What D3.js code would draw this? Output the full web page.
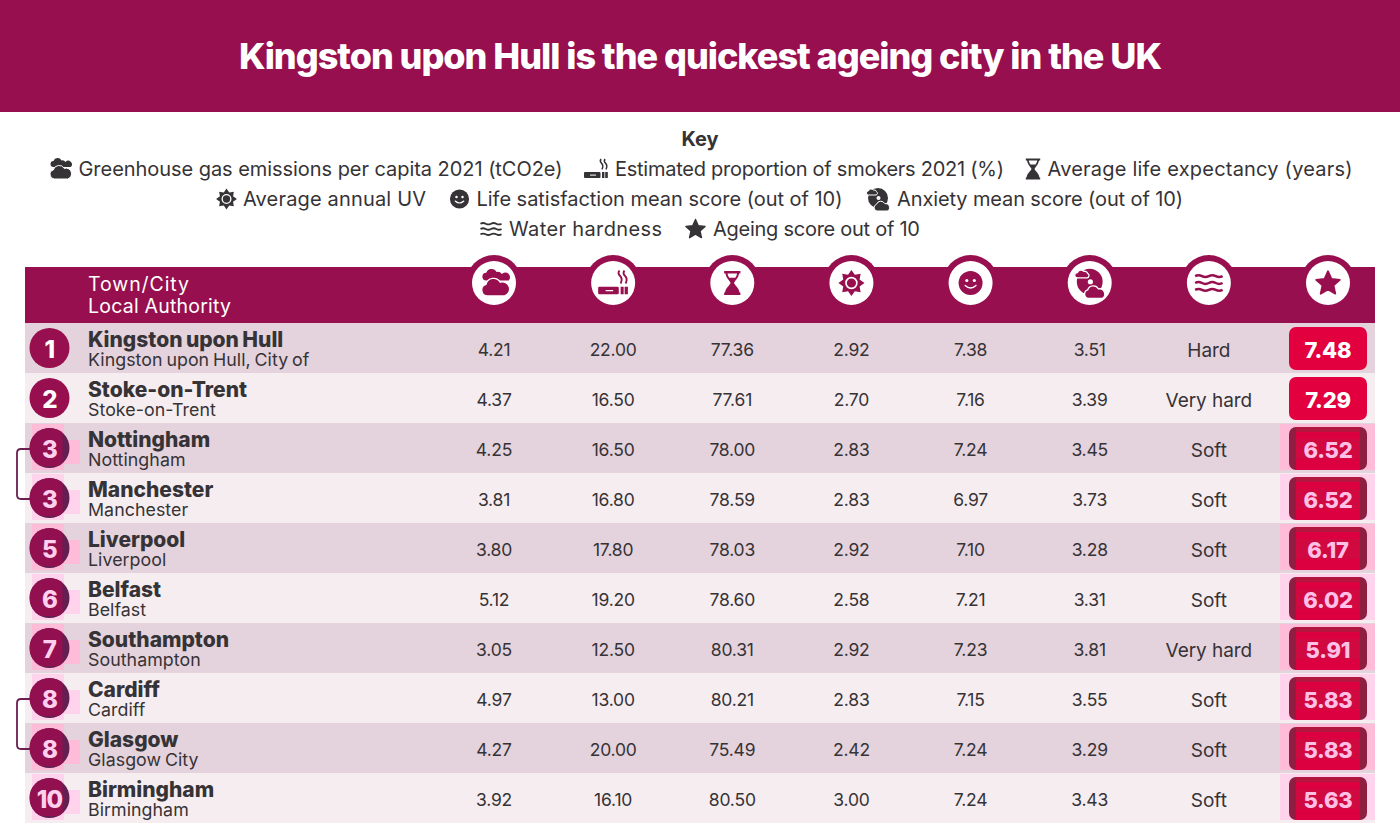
<!DOCTYPE html>
<html>
<head>
<meta charset="utf-8">
<script src="https://cdn.jsdelivr.net/npm/d3@7"></script>
<style>
  html, body { margin: 0; padding: 0; background: #fff; }
  svg { display: block; }
  text { font-family: Inter, "Noto Sans", sans-serif; }
</style>
</head>
<body>
<script>
// data
var title = "Kingston upon Hull is the quickest ageing city in the UK";
var keyHeading = "Key";
var keyLabels = [
  "Greenhouse gas emissions per capita 2021 (tCO2e)",
  "Estimated proportion of smokers 2021 (%)",
  "Average life expectancy (years)",
  "Average annual UV",
  "Life satisfaction mean score (out of 10)",
  "Anxiety mean score (out of 10)",
  "Water hardness",
  "Ageing score out of 10"
];
var keyRows = [[0, 1, 2], [3, 4, 5], [6, 7]];
var headerLabels = ["Town/City", "Local Authority"];

var ranks = [1, 2, 3, 3, 5, 6, 7, 8, 8, 10];
var towns = ["Kingston upon Hull", "Stoke-on-Trent", "Nottingham", "Manchester", "Liverpool", "Belfast", "Southampton", "Cardiff", "Glasgow", "Birmingham"];
var authorities = ["Kingston upon Hull, City of", "Stoke-on-Trent", "Nottingham", "Manchester", "Liverpool", "Belfast", "Southampton", "Cardiff", "Glasgow City", "Birmingham"];
var emissions = [4.21, 4.37, 4.25, 3.81, 3.80, 5.12, 3.05, 4.97, 4.27, 3.92];
var smokers = [22.00, 16.50, 16.50, 16.80, 17.80, 19.20, 12.50, 13.00, 20.00, 16.10];
var lifeExpectancy = [77.36, 77.61, 78.00, 78.59, 78.03, 78.60, 80.31, 80.21, 75.49, 80.50];
var uvIndex = [2.92, 2.70, 2.83, 2.83, 2.92, 2.58, 2.92, 2.83, 2.42, 3.00];
var satisfaction = [7.38, 7.16, 7.24, 6.97, 7.10, 7.21, 7.23, 7.15, 7.24, 7.24];
var anxiety = [3.51, 3.39, 3.45, 3.73, 3.28, 3.31, 3.81, 3.55, 3.29, 3.43];
var hardness = ["Hard", "Very hard", "Soft", "Soft", "Soft", "Soft", "Very hard", "Soft", "Soft", "Soft"];
var scores = [7.48, 7.29, 6.52, 6.52, 6.17, 6.02, 5.91, 5.83, 5.83, 5.63];

var w = 1400, h = 840;
var maroon = "#970f4e", ink = "#363336";
var fmt = d3.format(".2f");

var svg = d3.select("body").append("svg").attr("width", w).attr("height", h);

// scales
var colNames = ["emissions", "smokers", "life", "uv", "satisfaction", "anxiety", "hardness", "score"];
var xCol = d3.scalePoint().domain(colNames).range([494, 1328]);
var yRow = d3.scaleBand().domain(d3.range(towns.length)).range([323, 823]);

// squeeze or stretch a text to a measured width, the font here differs from the original
function fitWidth(sel, target) {
  var n = sel.text().length - 1;
  var now = sel.node().getComputedTextLength();
  sel.attr("letter-spacing", (target - now) / n);
  return sel;
}

// icons, all drawn in a 24x24 box
function radial(n, r1, r2) {
  var pts = d3.range(n * 2).map(function (i) {
    return [(i * Math.PI) / n, i % 2 ? r2 : r1];
  });
  return d3.lineRadial().curve(d3.curveLinearClosed)(pts);
}
var cloudBig = "M6 22 a4.6 4.6 0 0 1 -1.2 -9 a6 6 0 0 1 11 -1.6 a5.4 5.4 0 0 1 3.4 10.6 z";
var cloudSmall = "M5 9 a3 3 0 0 1 0 -6 a4.4 4.4 0 0 1 8 -.6 a3.6 3.6 0 0 1 4 1.6 a3.6 3.6 0 0 1 5.4 5 z";
var waveLine = "M1 0 q2.75 -1.5 5.5 0 t5.5 0 t5.5 0 t5.5 0";

var icons = {
  emissions: function (g, c) {
    g.append("path").attr("d", cloudSmall).attr("fill", c).attr("transform", "translate(1,1)");
    g.append("path").attr("d", cloudBig).attr("fill", c).attr("stroke", "#fff").attr("stroke-width", 1).attr("transform", "translate(1,0)");
  },
  smokers: function (g, c) {
    g.append("rect").attr("x", 0).attr("y", 15).attr("width", 16.5).attr("height", 6).attr("rx", 1).attr("fill", c);
    g.append("rect").attr("x", 6).attr("y", 17.6).attr("width", 6).attr("height", 1).attr("fill", "#fff");
    g.append("rect").attr("x", 18).attr("y", 15).attr("width", 2.4).attr("height", 6).attr("fill", c);
    g.append("rect").attr("x", 21.2).attr("y", 15).attr("width", 2.6).attr("height", 6).attr("fill", c);
    ["M17 2 q-1.6 2.4 .6 4.4 t.4 6", "M21 2 q-1.6 2.4 .6 4.4 t.4 6"].forEach(function (d) {
      g.append("path").attr("d", d).attr("fill", "none").attr("stroke", c).attr("stroke-width", 1.5);
    });
  },
  life: function (g, c) {
    g.append("path").attr("fill", c)
      .attr("d", "M4.5 1 h15 v2.2 h-1.2 c-.6 4 -3.2 6 -4.8 8.8 c1.6 2.8 4.6 4.6 5.2 8.8 h.8 v2.2 h-15 v-2.2 h.8 c.6 -4.2 3.6 -6 5.2 -8.8 c-1.6 -2.8 -4.2 -4.8 -4.8 -8.8 h-1.2 z");
    g.append("path").attr("fill", "#fff").attr("d", "M7.6 3.2 h8.8 c-.3 2 -1 3 -1.6 4 h-5.6 c-.6 -1 -1.3 -2 -1.6 -4 z");
  },
  uv: function (g, c) {
    g.append("path").attr("d", radial(8, 12.5, 8.5)).attr("fill", c).attr("transform", "translate(12,12)");
    g.append("circle").attr("cx", 12).attr("cy", 12).attr("r", 5.2).attr("fill", "none").attr("stroke", "#fff").attr("stroke-width", 1.6);
  },
  satisfaction: function (g, c) {
    g.append("circle").attr("cx", 12).attr("cy", 12).attr("r", 11.5).attr("fill", c);
    g.append("circle").attr("cx", 8.4).attr("cy", 9.6).attr("r", 1.5).attr("fill", "#fff");
    g.append("circle").attr("cx", 15.6).attr("cy", 9.6).attr("r", 1.5).attr("fill", "#fff");
    g.append("path").attr("d", "M6.8 14.4 q5.2 4.8 10.4 0").attr("fill", "none").attr("stroke", "#fff").attr("stroke-width", 1.3).attr("stroke-linecap", "round");
  },
  anxiety: function (g, c) {
    g.append("circle").attr("cx", 12).attr("cy", 11).attr("r", 10).attr("fill", c);
    g.append("circle").attr("cx", 12.5).attr("cy", 11).attr("r", 2).attr("fill", "#fff");
    g.append("path").attr("d", "M2.4 8 a2 2 0 0 1 0 -4 a3 3 0 0 1 5 -1 a2.4 2.4 0 0 1 3 1.6 a1.8 1.8 0 0 1 -.4 3.4 z")
      .attr("fill", c).attr("stroke", "#fff").attr("stroke-width", 1);
    g.append("path").attr("d", "M11 24 a3.4 3.4 0 0 1 -.6 -6.6 a4.6 4.6 0 0 1 8.4 -.8 a4 4 0 0 1 2.8 7.4 z")
      .attr("fill", c).attr("stroke", "#fff").attr("stroke-width", 1);
  },
  hardness: function (g, c) {
    [6.5, 12, 17.5].forEach(function (y) {
      g.append("path").attr("d", waveLine).attr("transform", "translate(0," + y + ")")
        .attr("fill", "none").attr("stroke", c).attr("stroke-width", 1.9);
    });
  },
  score: function (g, c) {
    g.append("path").attr("d", radial(5, 11.5, 5.4)).attr("fill", c).attr("stroke", c)
      .attr("stroke-width", 1.6).attr("stroke-linejoin", "round").attr("transform", "translate(12,12.6)");
  }
};
function drawIcon(parent, name, cx, cy, size, color) {
  var s = size / 24;
  var g = parent.append("g").attr("transform", "translate(" + cx + "," + cy + ") scale(" + s + ") translate(-12,-12)");
  icons[name](g, color);
}

// title band
svg.append("rect").attr("width", w).attr("height", 112).attr("fill", maroon);
svg.append("text").attr("x", w / 2).attr("y", 56).attr("dy", ".36em")
  .attr("text-anchor", "middle").attr("fill", "#fff")
  .attr("font-size", 36).attr("font-weight", 800).text(title)
  .call(fitWidth, 923);

// key
svg.append("text").attr("x", w / 2).attr("y", 139).attr("dy", ".36em").attr("text-anchor", "middle")
  .attr("fill", ink).attr("font-size", 20).attr("font-weight", 700).text(keyHeading);

// layout of the key, one entry per label
var keyBox = [24, 24, 15, 19, 20, 24, 22, 21];
var keyIcon = [24, 24, 23, 20, 20, 24, 23, 21];
var keyWidths = [484, 389, 305, 183, 366, 286, 153, 207];
var keyGaps = [21.5, 23.5, 23];
var yKey = d3.scalePoint().domain(d3.range(keyRows.length)).range([169, 229]);
keyRows.forEach(function (row, r) {
  var g = svg.append("g");
  var total = d3.sum(row, function (k) { return keyBox[k] + 7 + keyWidths[k]; }) + keyGaps[r] * (row.length - 1);
  var x = (w - total) / 2;
  row.forEach(function (k) {
    drawIcon(g, colNames[k], x + keyBox[k] / 2, yKey(r), keyIcon[k], ink);
    x += keyBox[k] + 7;
    g.append("text").attr("x", x).attr("y", yKey(r)).attr("dy", ".36em").attr("fill", ink)
      .attr("font-size", 20).text(keyLabels[k]).call(fitWidth, keyWidths[k]);
    x += keyWidths[k] + keyGaps[r];
  });
});

// table header
var headSize = { emissions: 31, smokers: 30, life: 26, uv: 25, satisfaction: 25, anxiety: 31, hardness: 30, score: 26 };
var headWidths = [101, 143];
colNames.forEach(function (c) {
  svg.append("circle").attr("cx", xCol(c)).attr("cy", 283).attr("r", 28).attr("fill", maroon);
});
svg.append("rect").attr("x", 25).attr("y", 267).attr("width", 1350).attr("height", 56).attr("fill", maroon);
headerLabels.forEach(function (t, i) {
  svg.append("text").attr("x", 88).attr("y", 283.5 + i * 22).attr("dy", ".36em").attr("fill", "#fff")
    .attr("font-size", 19.5).text(t).call(fitWidth, headWidths[i]);
});
colNames.forEach(function (c) {
  svg.append("circle").attr("cx", xCol(c)).attr("cy", 283).attr("r", 22).attr("fill", "#fff");
  drawIcon(svg, c, xCol(c), 283, headSize[c], maroon);
});

// rows
var bodyCols = [emissions, smokers, lifeExpectancy, uvIndex, satisfaction, anxiety];
var defs = svg.append("defs");
var rowH = yRow.bandwidth();

towns.forEach(function (town, i) {
  var top = yRow(i), cy = top + rowH / 2;
  var g = svg.append("g");
  g.append("rect").attr("x", 25).attr("y", top).attr("width", 1350).attr("height", rowH)
    .attr("fill", i % 2 ? "#f6edf1" : "#e4d2dc");

  g.append("text").attr("x", 88).attr("y", cy - 9).attr("dy", ".36em").attr("fill", ink)
    .attr("font-size", 21).attr("font-weight", 800).attr("letter-spacing", 0)
    .attr("word-spacing", -1.2).text(town);
  g.append("text").attr("x", 88).attr("y", cy + 12).attr("dy", ".36em").attr("fill", ink)
    .attr("font-size", 17.8).attr("letter-spacing", 0.05).attr("word-spacing", -1.2).text(authorities[i]);

  bodyCols.forEach(function (col, c) {
    g.append("text").attr("x", xCol(colNames[c])).attr("y", cy + 2).attr("dy", ".36em")
      .attr("text-anchor", "middle").attr("fill", ink).attr("font-size", 17.5)
      .attr("letter-spacing", -0.2).text(fmt(col[i]));
  });
  g.append("text").attr("x", xCol("hardness")).attr("y", cy + 2).attr("dy", ".36em")
    .attr("text-anchor", "middle").attr("fill", ink).attr("font-size", 19)
    .attr("letter-spacing", -0.05).text(hardness[i]);
});

// brackets joining tied ranks, the badges sit on top of them
ranks.forEach(function (r, i) {
  if (i > 0 && ranks[i - 1] === r) {
    var y0 = yRow(i - 1) + rowH / 2 + 1, y1 = yRow(i) + rowH / 2 + 1, c = 4;
    svg.append("path")
      .attr("d", "M32 " + y0 + " H" + (17 + c) + " Q17 " + y0 + " 17 " + (y0 + c) +
        " V" + (y1 - c) + " Q17 " + y1 + " " + (17 + c) + " " + y1 + " H32")
      .attr("fill", "none").attr("stroke", "#6a1f50").attr("stroke-width", 1.8);
  }
});

// badges and score boxes go on top of all the rows
towns.forEach(function (town, i) {
  var top = yRow(i), cy = top + rowH / 2, muted = i >= 2;
  var g = svg.append("g");
  var pink = i % 2 ? "#ffd3ec" : "#ffbcd9";
  var bx = 49.5, sx = xCol("score");

  if (muted) {
    g.append("rect").attr("x", 32).attr("y", cy - 24).attr("width", 32).attr("height", 46).attr("fill", pink);
    g.append("rect").attr("x", 64).attr("y", cy - 8).attr("width", 16).attr("height", 24).attr("fill", pink);
    g.append("rect").attr("x", sx - 48).attr("y", cy - 24).attr("width", 95).attr("height", 46).attr("fill", pink);
  }

  // rank badge
  g.append("circle").attr("cx", bx).attr("cy", cy).attr("r", 20).attr("fill", muted ? "#621f50" : maroon);
  if (muted) {
    var id = "badge" + i;
    defs.append("clipPath").attr("id", id).append("rect")
      .attr("x", bx - 20).attr("y", cy - 20).attr("width", 33).attr("height", 38);
    g.append("circle").attr("cx", bx).attr("cy", cy).attr("r", 20).attr("fill", "#920f50").attr("clip-path", "url(#" + id + ")");
  }
  g.append("text").attr("x", bx).attr("y", cy + 1).attr("dy", ".36em").attr("text-anchor", "middle")
    .attr("fill", muted ? "#ffd0ee" : "#fff").attr("font-size", 24).attr("font-weight", 800)
    .attr("letter-spacing", -0.8).text(ranks[i]);

  // score box
  g.append("rect").attr("x", sx - 39).attr("y", top + 4).attr("width", 78).attr("height", 43).attr("rx", 7)
    .attr("fill", muted ? "#8f1f40" : "#e2003f");
  if (muted) {
    g.append("rect").attr("x", sx - 32).attr("y", top + 4).attr("width", 64).attr("height", 5).attr("fill", "#b3163f");
    g.append("rect").attr("x", sx - 32).attr("y", top + 9).attr("width", 64).attr("height", 38).attr("fill", "#dc0040");
    g.append("rect").attr("x", sx - 32).attr("y", top + 16).attr("width", 64).attr("height", 20).attr("fill", "#d00a40");
  }
  g.append("text").attr("x", sx).attr("y", cy + 2).attr("dy", ".36em").attr("text-anchor", "middle")
    .attr("fill", muted ? "#ffc0e8" : "#fff").attr("font-size", 22).attr("font-weight", 800)
    .attr("letter-spacing", -0.2).text(fmt(scores[i]));
});
</script>
</body>
</html>
